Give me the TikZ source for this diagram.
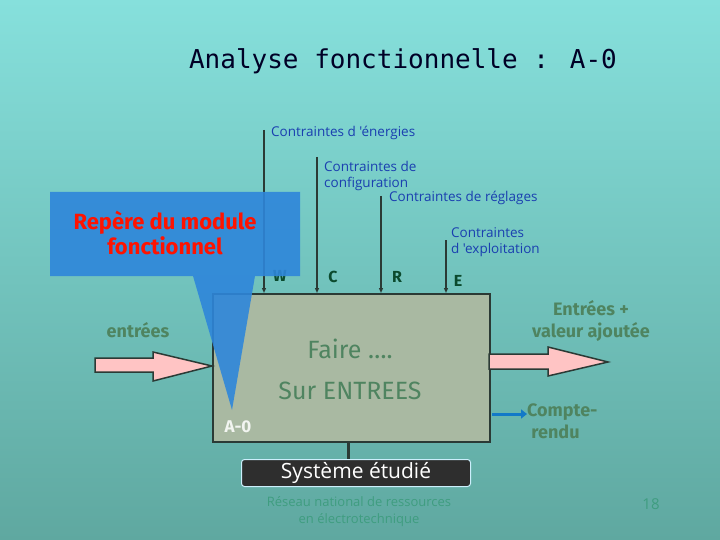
\documentclass[tikz,border=0pt]{standalone}
\usepackage{fontspec}
\setmainfont{Fira Sans}
\newfontfamily\titlefont{DejaVu Sans Mono}
\newfontfamily\thinfont{Open Sans}
\usetikzlibrary{arrows.meta}
\definecolor{bgA}{HTML}{86E0DC}
\definecolor{bgB}{HTML}{5FA8A0}
\definecolor{cblue}{HTML}{1A3FB0}
\definecolor{lgreen}{HTML}{0B4A2E}
\definecolor{tgreen}{HTML}{4F8460}
\definecolor{boxfill}{HTML}{A9B9A2}
\definecolor{edge}{HTML}{2B3A35}
\definecolor{calloutblue}{HTML}{2E86DA}
\definecolor{pinkA}{HTML}{FFC4C4}
\tikzset{
  ctext/.style={text=cblue,font=\thinfont\fontsize{13.5}{16}\selectfont,align=left,inner sep=0pt,anchor=west},
  letter/.style={text=lgreen,font=\bfseries\fontsize{16}{18}\selectfont,inner sep=0pt},
  gtext/.style={text=tgreen,font=\bfseries\fontsize{18}{22}\selectfont,align=center,inner sep=0pt},
  ctrl/.style={draw=edge,line width=1.2pt,-{Triangle[open,length=5pt,width=4pt]}},
  fat/.style={draw=edge,line width=1.5pt,fill=pinkA}
}
\begin{document}
\begin{tikzpicture}[x=1pt,y=-1pt]
\useasboundingbox (0,0) rectangle (720,540);
\shade[bottom color=bgB,top color=bgA] (0,0) rectangle (720,540);
\node[text=black!85!blue,font=\titlefont\fontsize{26}{30}\selectfont] (title) at (403,61) {Analyse fonctionnelle : A-0};
% main box
\node[draw=edge,line width=1.5pt,fill=boxfill,minimum width=277pt,minimum height=148pt,inner sep=0pt,anchor=north west] (box) at (212,293) {};
\node[text=tgreen,font=\fontsize{25}{28}\selectfont] (faire) at (350,349) {Faire \dots.};
\node[text=tgreen,font=\fontsize{25}{28}\selectfont] (sur) at (350,391) {Sur ENTREES};
% controls
\coordinate (w0) at (264,130); \coordinate (w1) at (264,293);
\coordinate (c0) at (317,157); \coordinate (c1) at (317,293);
\coordinate (r0) at (381,196); \coordinate (r1) at (381,293);
\coordinate (e0) at (446,240); \coordinate (e1) at (446,293);
\draw[ctrl] (w0) -- (w1);
\draw[ctrl] (c0) -- (c1);
\draw[ctrl] (r0) -- (r1);
\draw[ctrl] (e0) -- (e1);
\node[ctext] (t1) at (271,133) {Contraintes d 'énergies};
\node[ctext] (t2) at (324,176) {Contraintes de\\configuration};
\node[ctext] (t3) at (389,198) {Contraintes de réglages};
\node[ctext] (t4) at (451,242) {Contraintes\\d 'exploitation};
\node[letter] (lw) at (280,276) {W};
\node[letter] (lc) at (333,277) {C};
\node[letter] (lr) at (397,277) {R};
\node[letter] (le) at (458,281) {E};
% inputs
\draw[fat] (95,358) -- (153,358) -- (153,352) -- (212,366) -- (153,381) -- (153,372) -- (95,372) -- cycle;
\node[gtext] (entrees) at (138,330) {entrées};
% outputs
\draw[fat] (489,354) -- (548,354) -- (548,347) -- (608,362) -- (548,376) -- (548,369) -- (489,369) -- cycle;
\node[gtext] (va) at (591,321) {Entrées +\\valeur ajoutée};
\coordinate (cr0) at (492,414);
\node[gtext,anchor=west,align=left] (cr) at (527,421) {Compte-\\\ rendu};
\draw[draw=cblue!70!cyan,line width=3pt,-{Triangle[length=6pt,width=9pt]}] (cr0) -- (cr.west |- cr0);
% callout
\fill[calloutblue,opacity=0.9] (50,192) -- (300,192) -- (300,276) -- (255,276) -- (232,410) -- (193,276) -- (50,276) -- cycle;
\node[text=red!85!orange,font=\bfseries\fontsize{22}{25}\selectfont,align=center] (rep) at (165,233) {Repère du module\\fonctionnel};
\node[text=white!85!boxfill,font=\bfseries\fontsize{17}{20}\selectfont] (a0) at (238,427) {A-0};
% system
\draw[draw=edge,line width=3pt] (348,441) -- (348,459);
\node[draw=cyan!20,line width=1pt,fill=black!82,rounded corners=3pt,minimum width=229pt,minimum height=27pt,inner sep=0pt,text=white,font=\thinfont\fontsize{21}{24}\selectfont] (sys) at (356,473) {Système étudié};
% footer
\node[text=tgreen!80!cyan,font=\thinfont\fontsize{13}{17}\selectfont,align=center] (foot) at (359,512) {Réseau national de ressources\\en électrotechnique};
\node[text=tgreen!80!cyan,font=\thinfont\fontsize{15}{17}\selectfont] (num) at (651,504) {18};
\end{tikzpicture}
\end{document}
